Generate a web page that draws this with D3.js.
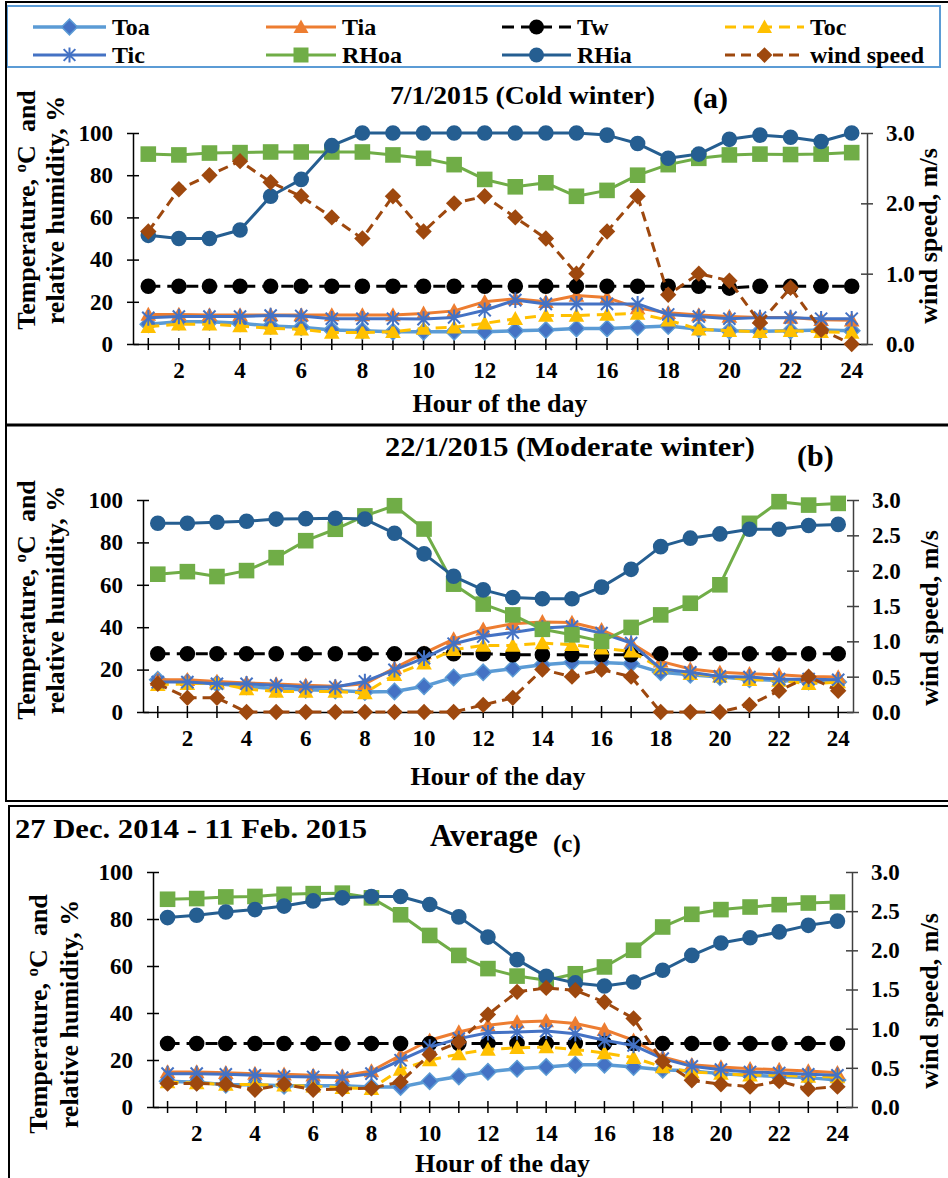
<!DOCTYPE html>
<html>
<head>
<meta charset="utf-8">
<script src="https://cdn.jsdelivr.net/npm/d3@7"></script>
<style>
  body { margin: 0; background: #fff; }
  svg { display: block; font-family: "Liberation Serif", "Times New Roman", serif; font-weight: bold; }
  text { white-space: pre; }
</style>
</head>
<body>
<svg id="chart" width="948" height="1178"></svg>
<script>
// ---- categories / ticks ----
const hours = [1, 2, 3, 4, 5, 6, 7, 8, 9, 10, 11, 12, 13, 14, 15, 16, 17, 18, 19, 20, 21, 22, 23, 24];
const leftTicks = [0, 20, 40, 60, 80, 100];
const windTicksA = [0, 1, 2, 3];
const windTicksBC = [0, 0.5, 1, 1.5, 2, 2.5, 3];
const seriesNames = ["Toa", "Tia", "Tw", "Toc", "Tic", "RHoa", "RHia", "wind speed"];

// ---- (a) 7/1/2015 cold winter ----
const coldToa  = [9.4, 10.5, 10.5, 9.8, 8.5, 7.9, 6.6, 6.3, 5.8, 5.8, 5.8, 5.8, 6.3, 6.6, 7.4, 7.4, 7.9, 8.5, 7, 6.3, 6, 6.3, 6.6, 6.3];
const coldTia  = [14, 14, 13.7, 13.7, 13.7, 13.7, 13.7, 13.7, 13.7, 14.5, 15.7, 20, 21.5, 20, 23, 22, 17, 14.8, 13.7, 13, 12.6, 12.6, 11.5, 11.3];
const coldTw   = [27.4, 27.4, 27.4, 27.4, 27.4, 27.4, 27.4, 27.4, 27.4, 27.4, 27.4, 27.4, 27.4, 27.4, 27.4, 27.4, 27.4, 27.4, 27.4, 26.5, 27.4, 27.4, 27.4, 27.4];
const coldToc  = [8.2, 9.4, 9.4, 8.5, 7.4, 7, 5.4, 5.4, 5.8, 7.4, 7.9, 9.8, 12, 13.5, 13.5, 14, 14.5, 11.3, 7, 6.3, 5.8, 6.3, 5.8, 5.5];
const coldTic  = [12.4, 13, 13, 13, 13.5, 13.3, 12, 12, 12, 11.8, 12.6, 16, 20.8, 19, 19, 19, 19, 14, 13, 12, 12.5, 12.5, 12, 12];
const coldRHoa = [90, 89.6, 90.5, 90.7, 91, 91, 91, 91, 89.6, 88, 85, 78, 74.5, 76.4, 70, 72.8, 80, 85, 88, 89.6, 90, 89.8, 90, 90.7];
const coldRHia = [51.5, 50, 50, 54, 70, 78, 94, 100, 100, 100, 100, 100, 100, 100, 100, 99, 95, 88, 90, 97, 99, 98, 96, 100];
const coldWind = [1.6, 2.2, 2.4, 2.6, 2.3, 2.1, 1.8, 1.5, 2.1, 1.6, 2.0, 2.1, 1.8, 1.5, 1.0, 1.6, 2.1, 0.7, 1.0, 0.9, 0.3, 0.8, 0.2, 0.0];

// ---- (b) 22/1/2015 moderate winter ----
const modToa  = [15.2, 14.1, 13.3, 12.1, 11, 10.5, 10.2, 9.4, 9.7, 12.1, 16.3, 18.7, 20.5, 22.3, 23.4, 23.4, 22.8, 18.7, 17.6, 16.5, 15.5, 14.9, 14.4, 14.1];
const modTia  = [15.2, 15.2, 14.4, 13.7, 13.2, 12.6, 12.1, 13.3, 20.7, 27.8, 34.4, 39, 41.6, 42.5, 42.2, 38.8, 32.5, 23.9, 20.3, 18.7, 18, 17.6, 16.8, 16.5];
const modTw   = [27.5, 27.5, 27.5, 27.5, 27.5, 27.5, 27.5, 27.5, 27.5, 27.5, 27.5, 27.5, 27, 27, 27, 27, 27, 27.5, 27.5, 27.5, 27.5, 27.5, 27.5, 27.5];
const modToc  = [12.9, 13.3, 13.7, 10.8, 9.7, 9.7, 9.7, 8.9, 17.6, 23, 29.4, 31.4, 31.4, 32.5, 31.7, 30.1, 28.6, 20.7, 18, 16.8, 15.2, 14.9, 13.3, 14.1];
const modTic  = [14.1, 14.1, 13.3, 13.3, 12.6, 11.8, 11.8, 14.4, 19.9, 25.4, 32.2, 35.6, 37.5, 39.6, 40.3, 37.2, 32.5, 20.3, 18.7, 16.8, 16.5, 15.5, 15.5, 15.2];
const modRHoa = [65, 66.2, 63.9, 66.7, 72.8, 80.8, 86.2, 92.5, 97.3, 86.3, 60.3, 50.9, 45.8, 39, 36.4, 33.3, 39.9, 45.8, 51.3, 60, 89, 99.2, 97.6, 98.4];
const modRHia = [89, 89, 89.5, 90, 91, 91.2, 91.4, 91, 84.3, 74.6, 64, 57.6, 54, 53.4, 53.4, 58.9, 67.3, 78, 82, 84, 86.2, 86.2, 88, 88.5];
const modWind = [0.4, 0.2, 0.2, 0, 0, 0, 0, 0, 0, 0, 0, 0.1, 0.2, 0.6, 0.5, 0.6, 0.5, 0, 0, 0, 0.1, 0.3, 0.5, 0.3];

// ---- (c) average 27 Dec. 2014 - 11 Feb. 2015 ----
const avgToa  = [11, 10.5, 9.5, 9.5, 9, 9, 9, 8.5, 8.5, 11, 13, 15, 16.3, 17, 18, 18, 17, 15.9, 15.3, 14.2, 13.5, 13, 12.5, 11.5];
const avgTia  = [14.9, 14.9, 14.6, 14.2, 13.9, 13.5, 13.2, 15.3, 22, 28.4, 31.9, 34.8, 36.2, 36.6, 35.5, 32.9, 28.4, 21.3, 18, 17, 16.3, 15.9, 15.3, 14.6];
const avgTw   = [27, 27, 27, 27, 27, 27, 27, 27, 27, 27, 27, 27, 27, 27, 27, 27, 27, 27, 27, 27, 27, 27, 27, 27];
const avgToc  = [10.6, 10.2, 9.6, 9.6, 9.2, 8.8, 8.2, 7.8, 16, 20, 22.5, 24.5, 25.2, 25.5, 24.5, 23, 21, 17, 14.9, 14.2, 13.5, 13.5, 13, 12.8];
const avgTic  = [14.2, 14.2, 13.9, 13.5, 13, 12.8, 12.5, 14.2, 19.9, 25.5, 29.1, 31.6, 31.9, 32.3, 31.2, 28.4, 26.2, 20.6, 17.3, 15.9, 14.9, 14.5, 13.9, 13.5];
const avgRHoa = [88.4, 88.7, 89.4, 89.6, 90.5, 90.8, 91, 89, 81.8, 73, 64.5, 58.9, 55.7, 53.9, 56.7, 59.6, 66.7, 76.6, 82, 84, 85.1, 86.1, 86.8, 87.2];
const avgRHia = [80.6, 81.6, 83, 84, 85.5, 87.7, 89, 89.6, 89.6, 86.2, 80.9, 72.3, 62.7, 55.6, 52.8, 51.5, 53.2, 58.2, 64.5, 69.8, 72, 74.5, 77.3, 79.1];
const avgWind = [0.3, 0.3, 0.29, 0.22, 0.29, 0.22, 0.23, 0.24, 0.32, 0.67, 0.83, 1.18, 1.47, 1.52, 1.49, 1.34, 1.13, 0.58, 0.34, 0.29, 0.26, 0.33, 0.23, 0.26];

// series look (Excel default palette)
const styles = {
  "Toa":        { color: "#5B9BD5", width: 3.5, marker: "diamond", fill: "#4472C4", stroke: "#5B9BD5" },
  "Tia":        { color: "#ED7D31", width: 3,   marker: "triangle", fill: "#ED7D31" },
  "Tw":         { color: "#000000", width: 3,   marker: "circle", fill: "#000000", dash: "12,7" },
  "Toc":        { color: "#FFC000", width: 3,   marker: "triangle", fill: "#FFC000", dash: "11,7" },
  "Tic":        { color: "#4472C4", width: 3,   marker: "asterisk" },
  "RHoa":       { color: "#70AD47", width: 3,   marker: "square", fill: "#70AD47" },
  "RHia":       { color: "#255E91", width: 3,   marker: "circle", fill: "#255E91" },
  "wind speed": { color: "#9E480E", width: 3,   marker: "diamond", fill: "#9E480E", dash: "10,6", right: true }
};

const svg = d3.select("#chart");

function markerPath(type, s) {
  if (type === "diamond") return `M0,${-s * 1.05}L${s * 1.05},0L0,${s * 1.05}L${-s * 1.05},0Z`;
  if (type === "triangle") return `M0,${-s}L${s},${s * 0.8}L${-s},${s * 0.8}Z`;
  if (type === "square") return `M${-s},${-s}H${s}V${s}H${-s}Z`;
  if (type === "circle") return d3.symbol(d3.symbolCircle, Math.PI * s * s)();
  const d = s * 0.78;
  return `M0,${-s}V${s}M${-d},${-d}L${d},${d}M${-d},${d}L${d},${-d}`;
}

function drawMarker(g, st, x, y, s) {
  const m = g.append("path").attr("d", markerPath(st.marker, s)).attr("transform", `translate(${x},${y})`);
  if (st.marker === "asterisk") m.attr("fill", "none").attr("stroke", st.color).attr("stroke-width", 2);
  else m.attr("fill", st.fill).attr("stroke", st.stroke || "none").attr("stroke-width", 1.5);
}

function styleAxis(sel, size, color) {
  sel.attr("font-family", null).attr("font-size", size).attr("font-weight", "bold");
  sel.selectAll("text").attr("fill", "#000");
  sel.select(".domain").attr("stroke", color).attr("stroke-width", 1.5);
  sel.selectAll(".tick line").attr("stroke", color).attr("stroke-width", 1.5);
}

// ================== LEGEND ==================
svg.append("rect").attr("x", 7).attr("y", 6).attr("width", 933).attr("height", 61)
  .attr("fill", "none").attr("stroke", "#5B9BD5").attr("stroke-width", 2);
const legCols = [{ x1: 33, x2: 106 }, { x1: 266, x2: 336 }, { x1: 502, x2: 571 }, { x1: 725, x2: 804 }];
const legRows = [27, 55];
seriesNames.forEach((name, i) => {
  const st = styles[name];
  const c = legCols[i % 4], y = legRows[Math.floor(i / 4)];
  const lg = svg.append("g");
  lg.append("line").attr("x1", c.x1).attr("x2", c.x2).attr("y1", y).attr("y2", y)
    .attr("stroke", st.color).attr("stroke-width", st.width).attr("stroke-dasharray", st.dash || null);
  drawMarker(lg, st, (c.x1 + c.x2) / 2, y, 7.5);
  lg.append("text").attr("x", c.x2 + 6).attr("y", y + 8).attr("font-size", 24).text(name);
});

// ================== FRAMES ==================
const frame = svg.append("g").attr("stroke", "#000").attr("fill", "none");
frame.append("line").attr("x1", 5).attr("x2", 948).attr("y1", 2).attr("y2", 2).attr("stroke-width", 2);
frame.append("line").attr("x1", 6).attr("x2", 6).attr("y1", 1).attr("y2", 802).attr("stroke-width", 2);
frame.append("line").attr("x1", 5).attr("x2", 948).attr("y1", 425).attr("y2", 425).attr("stroke-width", 3);
frame.append("line").attr("x1", 5).attr("x2", 948).attr("y1", 801).attr("y2", 801).attr("stroke-width", 2);
frame.append("line").attr("x1", 8).attr("x2", 948).attr("y1", 806).attr("y2", 806).attr("stroke-width", 2);
frame.append("line").attr("x1", 9).attr("x2", 9).attr("y1", 805).attr("y2", 1178).attr("stroke-width", 2);

// ================== PANELS ==================
const panels = [
  {
    data: [coldToa, coldTia, coldTw, coldToc, coldTic, coldRHoa, coldRHia, coldWind],
    left: 133, right: 867, top: 133, bottom: 344, windTicks: windTicksA, ms: 7.8,
    yTitle: { x1: 35, x2: 64, y: 210 }, rTitle: { x: 937, y: 236 }, xTitleY: 412,
    titles: [
      { text: "7/1/2015 (Cold winter)", x: 390, y: 104, size: 26, len: 265 },
      { text: "(a)", x: 693, y: 108, size: 30 }
    ]
  },
  {
    data: [modToa, modTia, modTw, modToc, modTic, modRHoa, modRHia, modWind],
    left: 143, right: 853, top: 500, bottom: 712, windTicks: windTicksBC, ms: 7.8,
    yTitle: { x1: 35, x2: 64, y: 600 }, rTitle: { x: 938, y: 618 }, xTitleY: 785,
    titles: [
      { text: "22/1/2015 (Moderate winter)", x: 385, y: 456, size: 27, len: 370 },
      { text: "(b)", x: 797, y: 466, size: 30 }
    ]
  },
  {
    data: [avgToa, avgTia, avgTw, avgToc, avgTic, avgRHoa, avgRHia, avgWind],
    left: 153, right: 852, top: 872, bottom: 1107, windTicks: windTicksBC, ms: 7.8,
    yTitle: { x1: 47, x2: 78, y: 1014 }, rTitle: { x: 938, y: 1001 }, xTitleY: 1172,
    titles: [
      { text: "27 Dec. 2014 - 11 Feb. 2015", x: 15, y: 838, size: 28, len: 352 },
      { text: "Average", x: 430, y: 846, size: 31 },
      { text: "(c)", x: 553, y: 852, size: 25 }
    ]
  }
];

panels.forEach(drawPanel);

function drawPanel(p) {
  const g = svg.append("g");
  const x = d3.scaleBand().domain(hours).range([p.left, p.right]);
  const cx = h => x(h) + x.bandwidth() / 2;
  const yL = d3.scaleLinear().domain([0, 100]).range([p.bottom, p.top]);
  const yR = d3.scaleLinear().domain([0, 3]).range([p.bottom, p.top]);

  // axes
  const gx = g.append("g").attr("transform", `translate(0,${p.bottom})`)
    .call(d3.axisBottom(x).tickSize(6).tickSizeOuter(0).tickPadding(12)
      .tickFormat(d => d % 2 ? "" : d));
  gx.selectAll(".tick line").attr("y1", -6);
  styleAxis(gx, 23, "#000");

  const gl = g.append("g").attr("transform", `translate(${p.left},0)`)
    .call(d3.axisLeft(yL).tickValues(leftTicks).tickSize(6).tickSizeOuter(0).tickPadding(14));
  gl.selectAll(".tick line").attr("x1", 6);
  styleAxis(gl, 23, "#000");

  const gr = g.append("g").attr("transform", `translate(${p.right},0)`)
    .call(d3.axisRight(yR).tickValues(p.windTicks).tickSize(6).tickSizeOuter(0).tickPadding(13)
      .tickFormat(d3.format(".1f")));
  gr.selectAll(".tick line").attr("x1", -6);
  styleAxis(gr, 23, "#404040");

  // series
  seriesNames.forEach((name, i) => {
    const st = styles[name];
    const vals = p.data[i];
    const y = st.right ? yR : yL;
    const line = d3.line().x((d, j) => cx(hours[j])).y(d => y(d));
    const sg = g.append("g");
    sg.append("path").attr("d", line(vals)).attr("fill", "none")
      .attr("stroke", st.color).attr("stroke-width", st.width)
      .attr("stroke-dasharray", st.dash || null).attr("stroke-linejoin", "round");
    vals.forEach((v, j) => drawMarker(sg, st, cx(hours[j]), y(v), p.ms));
  });

  // axis titles
  const yt = g.append("g").attr("font-size", 26);
  const t1 = yt.append("text").attr("text-anchor", "middle")
    .attr("transform", `translate(${p.yTitle.x1},${p.yTitle.y}) rotate(-90)`);
  t1.append("tspan").text("Temperature, ");
  t1.append("tspan").attr("dy", -9).attr("font-size", 17).text("o");
  t1.append("tspan").attr("dy", 9).text("C  and");
  yt.append("text").attr("text-anchor", "middle")
    .attr("transform", `translate(${p.yTitle.x2},${p.yTitle.y}) rotate(-90)`)
    .text("relative humidity, %");
  yt.append("text").attr("text-anchor", "middle")
    .attr("transform", `translate(${p.rTitle.x},${p.rTitle.y}) rotate(-90)`)
    .text("wind speed, m/s");
  yt.append("text").attr("text-anchor", "middle")
    .attr("x", (p.left + p.right) / 2).attr("y", p.xTitleY)
    .text("Hour of the day");

  p.titles.forEach(t => {
    const tx = g.append("text").attr("x", t.x).attr("y", t.y).attr("font-size", t.size).text(t.text);
    if (t.len) tx.attr("textLength", t.len).attr("lengthAdjust", "spacingAndGlyphs");
  });
}
</script>
</body>
</html>
